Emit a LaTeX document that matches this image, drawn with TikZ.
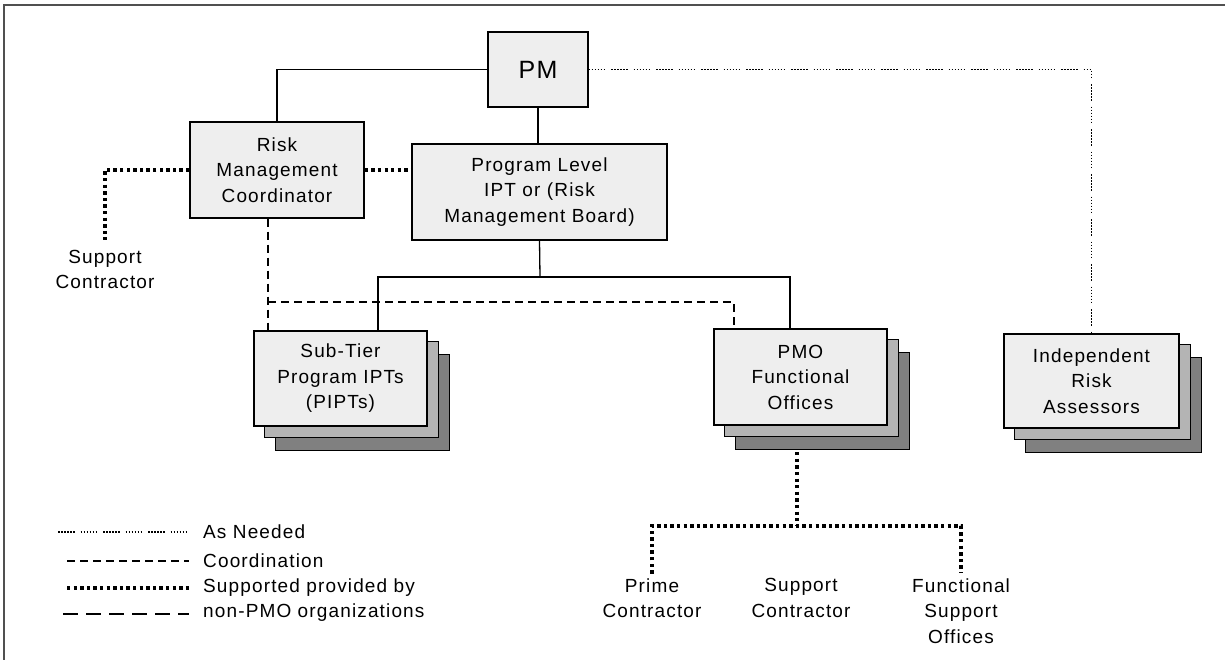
\documentclass[tikz,border=0pt]{standalone}
\usepackage{fontspec}
\setmainfont{Liberation Sans}
\newfontfamily\boxfont[LetterSpace=6]{Liberation Sans}
\usetikzlibrary{backgrounds}
\definecolor{boxfront}{HTML}{EEEEEE}
\definecolor{boxmid}{HTML}{B4B4B4}
\definecolor{boxback}{HTML}{808080}
\definecolor{framegray}{HTML}{505050}
\begin{document}
\begin{tikzpicture}[x=1pt,y=-1pt,
  box/.style={draw=black, line width=1.4pt, fill=boxfront, align=center,
    font=\boxfont\fontsize{19}{25.5}\selectfont, inner sep=0pt},
  plaintext/.style={align=center, font=\boxfont\fontsize{19}{25.5}\selectfont, inner xsep=0pt},
  legendtext/.style={anchor=west, font=\boxfont\fontsize{19}{25}\selectfont, inner sep=0pt},
  solidline/.style={line width=1.3pt},
  asneeded/.style={line width=1.2pt, dash pattern=on 1.5pt off 1.5pt on 1.5pt off 1.5pt on 1.5pt off 1.5pt on 1.5pt off 1.5pt on 1.5pt off 1.5pt on 1.5pt off 6pt},
  coordline/.style={line width=1.3pt, dash pattern=on 8pt off 5pt},
  supportline/.style={line width=3.5pt, dash pattern=on 3.3pt off 3.3pt},
  longdash/.style={line width=1.3pt, dash pattern=on 15pt off 8pt},
  shadowbox/.style={draw=black, line width=1.4pt}
]
\useasboundingbox (0,0) rectangle (1225,660);
% frame
\draw[line width=2pt, framegray] (4,660) -- (4,5) -- (1225,5);

% boxes
\node[box, minimum width=100pt, minimum height=75pt, font=\boxfont\fontsize{25}{30}\selectfont] (PM) at (538,69.5) {PM};
\node[box, minimum width=174pt, minimum height=96pt] (RMC) at (277,170) {Risk\\Management\\Coordinator};
\node[box, minimum width=255pt, minimum height=96pt] (PLB) at (539.5,192) {Program Level\\IPT or (Risk\\Management Board)};
\node[box, minimum width=173pt, minimum height=95pt] (ST) at (340.5,378.5) {Sub-Tier\\Program IPTs\\(PIPTs)};
\node[box, minimum width=173pt, minimum height=96pt] (PMO) at (800.5,377) {PMO\\Functional\\Offices};
\node[box, minimum width=175pt, minimum height=94pt] (IRA) at (1091.5,381) {Independent\\Risk\\Assessors};

% free text nodes
\node[plaintext, inner ysep=10pt] (SCL) at (105,269.5) {Support\\Contractor};
\node[plaintext, inner ysep=4.5pt] (PC) at (652,598) {Prime\\Contractor};
\node[plaintext, inner ysep=4.5pt] (SCB) at (801,598) {Support\\Contractor};
\node[plaintext, inner ysep=5pt] (FSO) at (961,611) {Functional\\Support\\Offices};

% coordinates
\coordinate (br) at (540,277);
\coordinate (dashA) at (268,302);
\coordinate (hub) at (797,526);

\begin{pgfonlayer}{background}
  % solid
  \draw[solidline] (PM.west) -| (RMC.north);
  \draw[solidline] (PM.south) -- (PM.south |- PLB.north);
  \draw[solidline] (PLB.south) -- (br);
  \draw[solidline] ([xshift=37.5pt]ST.north) |- (br) -| ([xshift=-10.5pt]PMO.north);
  % coordination
  \draw[coordline] ([xshift=-9pt]RMC.south) -- ([xshift=-72.5pt]ST.north);
  \draw[coordline] (dashA) -| ([xshift=-66.5pt]PMO.north);
  % as needed
  \draw[asneeded] (PM.east) -| (IRA.north);
  % support
  \draw[supportline] (RMC.east) -- (RMC.east -| PLB.west);
  \draw[supportline] (RMC.west) -| (SCL.north);
  \draw[supportline] ([xshift=-3.5pt]PMO.south) -- (hub);
  \draw[supportline] (PC.north) |- (hub) -| (FSO.north);
  % stacked copies
  \foreach \n in {ST,PMO,IRA}{
    \draw[shadowbox, fill=boxback] ([shift={(22pt,-24pt)}]\n.south west) rectangle ([shift={(22pt,-24pt)}]\n.north east);
    \draw[shadowbox, fill=boxmid] ([shift={(11pt,-11pt)}]\n.south west) rectangle ([shift={(11pt,-11pt)}]\n.north east);
  }
\end{pgfonlayer}

% legend
\coordinate (l1a) at (58,532);  \coordinate (l1b) at (186,532);
\coordinate (l2a) at (67,561);  \coordinate (l2b) at (189,561);
\coordinate (l3a) at (67,588);  \coordinate (l3b) at (189,588);
\coordinate (l4a) at (63,614);  \coordinate (l4b) at (189,614);
\draw[asneeded] (l1a) -- (l1b);
\draw[coordline] (l2a) -- (l2b);
\draw[supportline] (l3a) -- (l3b);
\draw[longdash] (l4a) -- (l4b);
\node[legendtext] (t1) at (203,532) {As Needed};
\node[legendtext] (t2) at (203,561) {Coordination};
\node[legendtext] (t3) at (203,588) {Supported provided by};
\node[legendtext] (t4) at (203,613) {non-PMO organizations};
\end{tikzpicture}
\end{document}
